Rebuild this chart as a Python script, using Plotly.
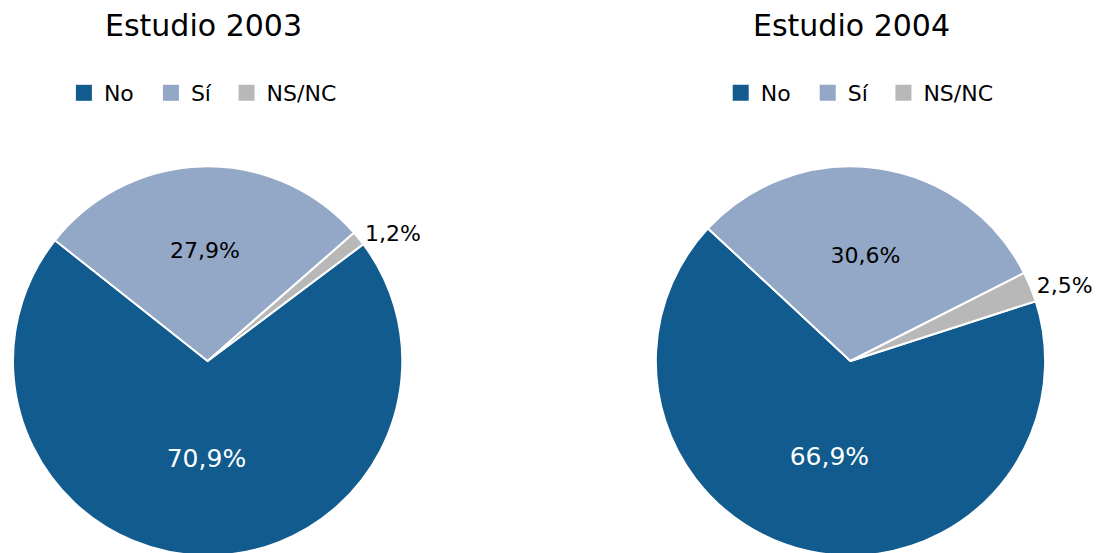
import plotly.graph_objects as go

categories = ["No", "Sí", "NS/NC"]
values_2003 = [70.9, 27.9, 1.2]
values_2004 = [66.9, 30.6, 2.5]
labels_2003 = ["70,9%", "27,9%", "1,2%"]
labels_2004 = ["66,9%", "30,6%", "2,5%"]
titles = ["Estudio 2003", "Estudio 2004"]

colors = ["#115B8E", "#93A7C6", "#B8B8B8"]
FONT = "DejaVu Sans"

W, H = 1105, 553
OFF = 8  # page offset of the figure inside the browser window


def px_x(v):
    return (v - OFF) / W


def px_y(v):
    return 1 - (v - OFF) / H


def pie(values, texts, cx, rot):
    r = 195
    return go.Pie(
        labels=categories,
        values=values,
        text=texts,
        textinfo="text",
        sort=False,
        direction="clockwise",
        rotation=rot,
        marker=dict(colors=colors, line=dict(color="white", width=2)),
        textposition=["inside", "inside", "outside"],
        insidetextorientation="horizontal",
        insidetextfont=dict(color=["white", "black", "black"], size=[25, 22, 22], family=FONT),
        outsidetextfont=dict(color="black", size=22, family=FONT),
        domain=dict(x=[px_x(cx - r), px_x(cx + r)], y=[px_y(361 + r), px_y(361 - r)]),
        showlegend=False,
        hoverinfo="label+text",
    )


fig = go.Figure()
fig.add_trace(pie(values_2003, labels_2003, 206, 53.1))
fig.add_trace(pie(values_2004, labels_2004, 850, 72.1))

# legend entries: per chart, "No"/"Sí" in one legend box and "NS/NC" in another
legend_sets = [("legend", "legend3"), ("legend2", "legend4")]
for main_legend, last_legend in legend_sets:
    for i, (cat, col) in enumerate(zip(categories, colors)):
        fig.add_trace(go.Scatter(
            x=[None], y=[None], mode="markers", name=cat,
            marker=dict(symbol="square", size=18, color=col),
            legend=main_legend if i < 2 else last_legend,
            showlegend=True, hoverinfo="skip",
        ))

legend_common = dict(
    orientation="h",
    font=dict(family=FONT, size=22, color="black"),
    yanchor="middle",
    y=px_y(93),
    xanchor="left",
    bgcolor="rgba(0,0,0,0)",
    itemsizing="trace",
)

fig.update_layout(
    width=W,
    height=H,
    margin=dict(l=0, r=0, t=0, b=0),
    paper_bgcolor="white",
    plot_bgcolor="white",
    font=dict(family=FONT, color="black"),
    xaxis=dict(visible=False),
    yaxis=dict(visible=False),
    showlegend=True,
    legend=dict(legend_common, x=px_x(62), entrywidth=42),
    legend3=dict(legend_common, x=px_x(225)),
    legend2=dict(legend_common, x=px_x(720), entrywidth=42),
    legend4=dict(legend_common, x=px_x(883)),
    annotations=[
        dict(text=titles[0], x=px_x(202), y=px_y(26), xref="paper", yref="paper",
             showarrow=False, xanchor="center", yanchor="middle",
             font=dict(family=FONT, size=30, color="black")),
        dict(text=titles[1], x=px_x(851), y=px_y(26), xref="paper", yref="paper",
             showarrow=False, xanchor="center", yanchor="middle",
             font=dict(family=FONT, size=30, color="black")),
    ],
)

fig.write_html("out.html")
